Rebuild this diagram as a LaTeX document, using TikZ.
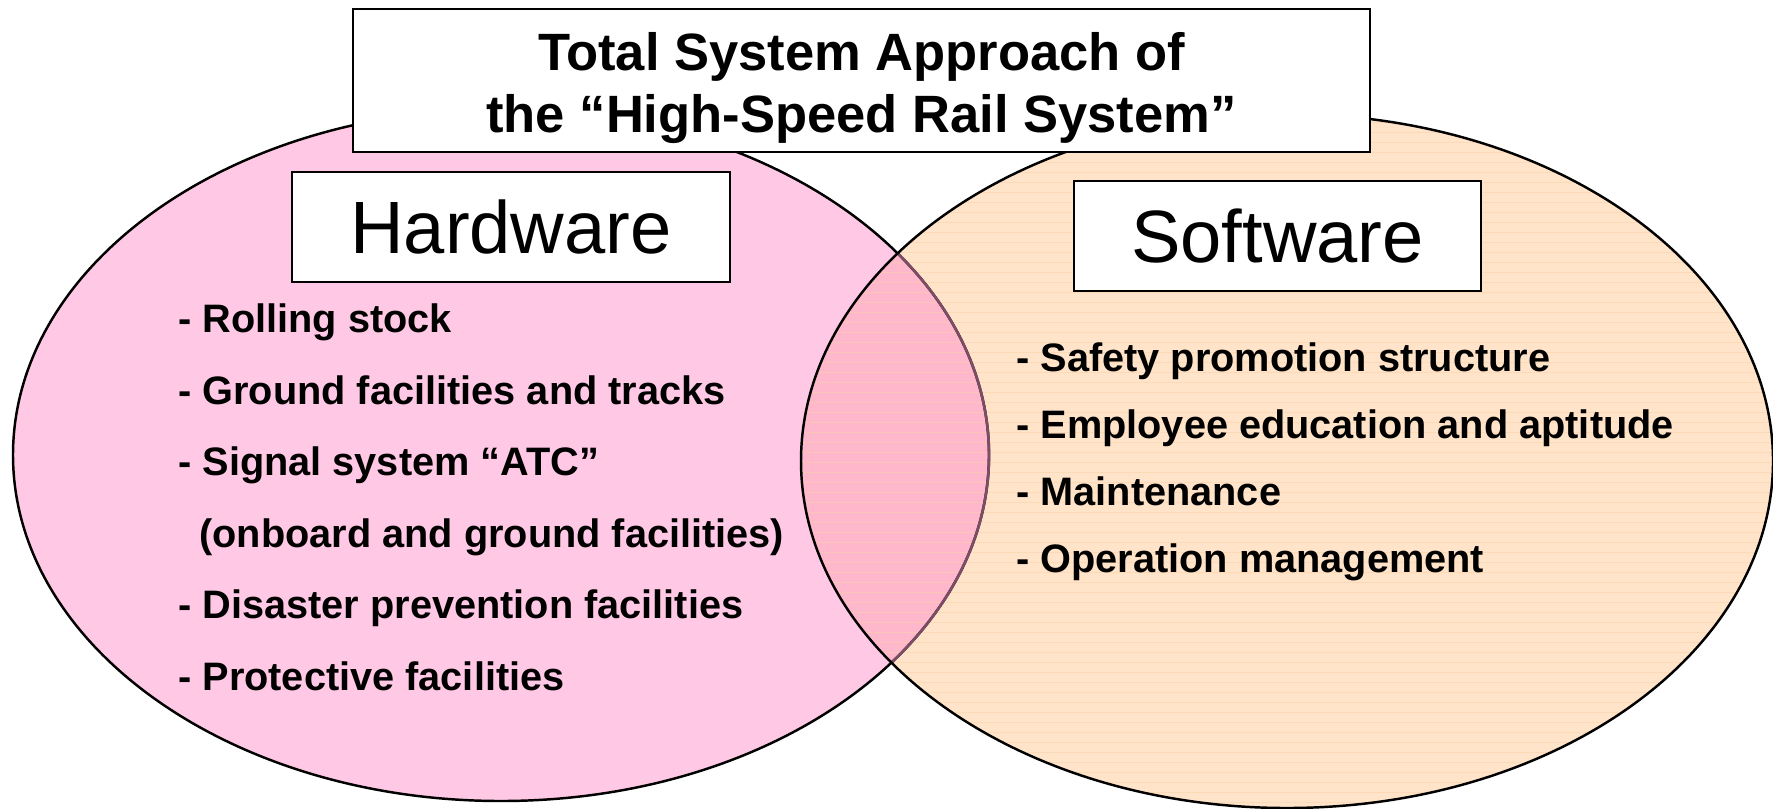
\documentclass[tikz,border=0pt]{standalone}
\usepackage{fontspec}
\setmainfont{Liberation Sans}
\usepackage{tikz}

\definecolor{hwpink}{RGB}{255,201,229}
\definecolor{swpeach}{RGB}{255,228,202}
\definecolor{swstripe}{RGB}{252,210,166}
\definecolor{bothpink}{RGB}{255,184,203}
\definecolor{hwedge}{RGB}{125,76,102}

\begin{document}
\begin{tikzpicture}[x=0.02cm,y=-0.02cm,
    labelbox/.style={draw,fill=white,line width=1.4pt,inner sep=0pt},
    item/.style={anchor=base west,inner sep=0pt,font=\fontsize{22.6}{27}\selectfont\bfseries}]
  \useasboundingbox (0,0) rectangle (1773,808);

  % hardware and software sets
  \fill[hwpink] (501,455) ellipse [x radius=488, y radius=346];
  \fill[swpeach] (1287,461) ellipse [x radius=486, y radius=347];
  \begin{scope}
    \clip (501,455) ellipse [x radius=488, y radius=346];
    \fill[bothpink] (1287,461) ellipse [x radius=486, y radius=347];
  \end{scope}
  \begin{scope}
    \clip (1287,461) ellipse [x radius=486, y radius=347];
    \foreach \y in {112,122,...,808}
      \draw[swstripe,line width=0.5pt,opacity=0.5] (790,\y) -- (1773,\y);
  \end{scope}

  % outlines, the hardware one seen through the software set
  \draw[line width=1.4pt] (501,455) ellipse [x radius=488, y radius=346];
  \begin{scope}
    \clip (1287,461) ellipse [x radius=486, y radius=347];
    \draw[hwedge,line width=1.5pt] (501,455) ellipse [x radius=488, y radius=346];
  \end{scope}
  \draw[line width=1.4pt] (1287,461) ellipse [x radius=486, y radius=347];

  % title
  \node[labelbox,minimum width=20.34cm,minimum height=2.86cm] (title) at (861.5,80.5) {};
  \node[align=center,font=\fontsize{29.9}{35.7}\selectfont\bfseries] (titletext) at (861.5,88)
    {Total System Approach of\\the ``High-Speed Rail System''};

  \node[labelbox,minimum width=8.76cm,minimum height=2.2cm,font=\fontsize{42.2}{50}\selectfont] (hw) at (511,227) {Hardware};
  \node[labelbox,minimum width=8.14cm,minimum height=2.2cm,font=\fontsize{42.2}{50}\selectfont] (sw) at (1277.5,236) {Software};

  \foreach \y/\txt [count=\i] in {332/- Rolling stock, 404/- Ground facilities and tracks,
      475/- Signal system ``ATC'', 547/\hspace{0.53em}(onboard and ground facilities),
      618/- Disaster prevention facilities, 690/- Protective facilities}
    \node[item] (hw\i) at (178,\y) {\txt};

  \foreach \y/\txt [count=\i] in {371/- Safety promotion structure, 438/- Employee education and aptitude,
      505/- Maintenance, 572/- Operation management}
    \node[item] (sw\i) at (1016,\y) {\txt};
\end{tikzpicture}
\end{document}
